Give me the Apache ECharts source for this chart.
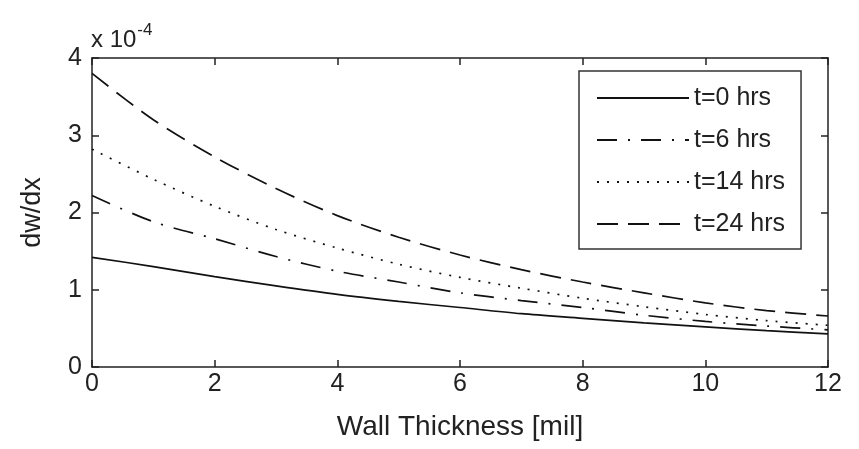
<!DOCTYPE html>
<html>
<head>
<meta charset="utf-8">
<script src="https://cdn.jsdelivr.net/npm/echarts@6/dist/echarts.min.js"></script>
<style>
html,body{margin:0;padding:0;background:#fff;}
#chart{width:859px;height:449px;}
</style>
</head>
<body>
<div id="chart"></div>
<script>
// x values: wall thickness [mil]
const thickness = [0,1,2,3,4,5,6,7,8,9,10,11,12];
// dw/dx values in units of 1e-4
const t0hrs  = [1.42,1.30,1.17,1.05,0.94,0.85,0.77,0.69,0.63,0.57,0.52,0.47,0.43];
const t6hrs  = [2.22,1.88,1.66,1.43,1.24,1.10,0.96,0.86,0.77,0.67,0.59,0.53,0.48];
const t14hrs = [2.82,2.43,2.08,1.78,1.54,1.33,1.16,1.02,0.89,0.78,0.68,0.60,0.54];
const t24hrs = [3.80,3.20,2.72,2.31,1.96,1.68,1.45,1.26,1.10,0.96,0.83,0.73,0.66];
const seriesNames = ['t=0 hrs','t=6 hrs','t=14 hrs','t=24 hrs'];
const xTicks = [0,2,4,6,8,10,12];
const yTicks = [0,1,2,3,4];

const dashes = ['solid', [20,11,2,11], [2,8], [21,10]];
const allY = [t0hrs, t6hrs, t14hrs, t24hrs];
const FONT = 'Liberation Sans, Arial, sans-serif';

const chart = echarts.init(document.getElementById('chart'), null, {renderer:'canvas'});
const axisLineStyle = {color:'#222', width:1.5};
chart.setOption({
  backgroundColor:'#fff',
  animation:false,
  grid:{left:92, right:31, top:58, bottom:82, containLabel:false},
  xAxis:[{
    type:'value', min:xTicks[0], max:xTicks[xTicks.length-1], interval:2,
    position:'bottom',
    axisLine:{show:true, onZero:false, lineStyle:axisLineStyle},
    axisTick:{show:true, inside:true, length:7, lineStyle:axisLineStyle},
    splitLine:{show:false},
    axisLabel:{fontFamily:FONT, fontSize:25, color:'#222', margin:5},
    name:'Wall Thickness [mil]', nameLocation:'middle', nameGap:46,
    nameTextStyle:{fontFamily:FONT, fontSize:28, color:'#222'}
  },{
    type:'value', min:xTicks[0], max:xTicks[xTicks.length-1], interval:2,
    position:'top',
    axisLine:{show:true, onZero:false, lineStyle:axisLineStyle},
    axisTick:{show:true, inside:true, length:7, lineStyle:axisLineStyle},
    splitLine:{show:false}, axisLabel:{show:false}
  }],
  yAxis:[{
    type:'value', min:yTicks[0], max:yTicks[yTicks.length-1], interval:1,
    position:'left',
    axisLine:{show:true, onZero:false, lineStyle:axisLineStyle},
    axisTick:{show:true, inside:true, length:7, lineStyle:axisLineStyle},
    splitLine:{show:false},
    axisLabel:{fontFamily:FONT, fontSize:25, color:'#222', margin:10},
    name:'dw/dx', nameLocation:'middle', nameGap:46, nameRotate:90,
    nameTextStyle:{fontFamily:FONT, fontSize:27, color:'#222'}
  },{
    type:'value', min:yTicks[0], max:yTicks[yTicks.length-1], interval:1,
    position:'right',
    axisLine:{show:true, onZero:false, lineStyle:axisLineStyle},
    axisTick:{show:true, inside:true, length:7, lineStyle:axisLineStyle},
    splitLine:{show:false}, axisLabel:{show:false}
  }],
  legend:{
    orient:'vertical', left:579, top:71,
    backgroundColor:'#fff', borderColor:'#333', borderWidth:1.5,
    padding:[12,16,10,17], itemWidth:92, itemHeight:14, itemGap:12,
    itemStyle:{opacity:0, borderWidth:0},
    textStyle:{fontFamily:FONT, fontSize:25, color:'#222', lineHeight:30},
    data:seriesNames
  },
  graphic:[{
    type:'text', left:91, top:22,
    style:{
      text:'{a|x 10}{b|-4}',
      rich:{
        a:{fontFamily:FONT, fontSize:24, fill:'#222', verticalAlign:'bottom'},
        b:{fontFamily:FONT, fontSize:17, fill:'#222', padding:[0,0,13,1], verticalAlign:'bottom'}
      }
    }
  }],
  series: seriesNames.map((n,i)=>({
    name:n, type:'line', xAxisIndex:0, yAxisIndex:0,
    data: thickness.map((x,j)=>[x, allY[i][j]]),
    smooth:0.3, symbol:'none', showSymbol:false,
    color:'#111',
    lineStyle:{color:'#111', width:1.7, type:dashes[i]},
    z: 3
  }))
});
</script>
</body>
</html>
